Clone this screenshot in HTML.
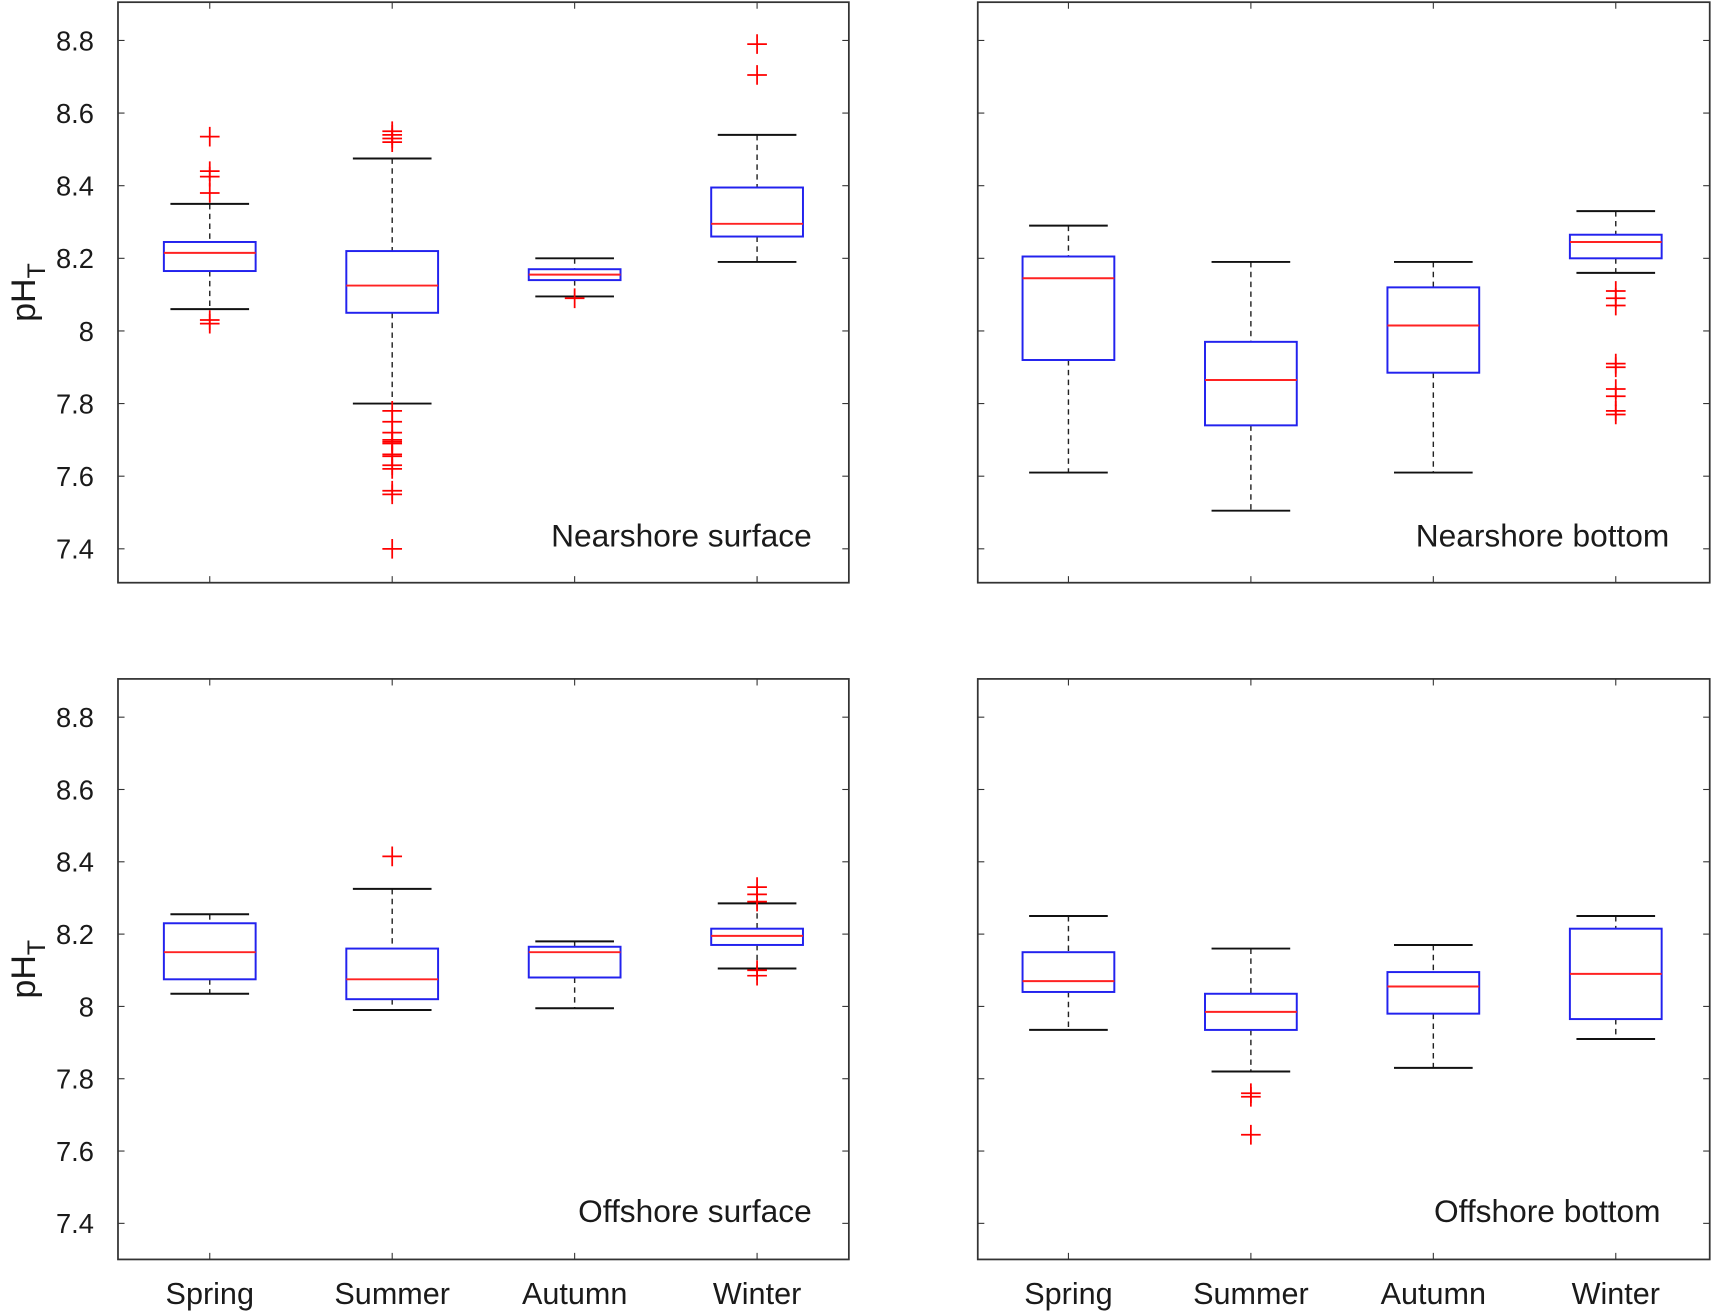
<!DOCTYPE html>
<html><head><meta charset="utf-8"><style>
html,body{margin:0;padding:0;background:#fff}
svg{display:block}
text{font-family:"Liberation Sans",sans-serif;fill:#1a1a1a}
</style></head><body>
<svg id="s" width="1713" height="1313" viewBox="0 0 1568 1201" preserveAspectRatio="none" xmlns="http://www.w3.org/2000/svg"></svg>
<script>
const S=document.getElementById('s');let h='';
const panels=[
{x0:108,x1:777,y0:2,y1:533,t0:37,t1:502,cx:[192,359,526,693],lab:'Nearshore surface',lx:743,ly:500,yl:true,
 d:[[8.165,8.245,8.215,8.06,8.35,[8.535,8.44,8.425,8.38,8.03,8.02]],
    [8.05,8.22,8.125,7.80,8.475,[8.55,8.54,8.53,8.52,7.78,7.75,7.72,7.70,7.695,7.69,7.66,7.655,7.63,7.62,7.56,7.55,7.40]],
    [8.14,8.17,8.155,8.095,8.20,[8.09]],
    [8.26,8.395,8.295,8.19,8.54,[8.79,8.705]]]},
{x0:895,x1:1565,y0:2,y1:533,t0:37,t1:502,cx:[978,1145,1312,1479],lab:'Nearshore bottom',lx:1528,ly:500,yl:false,
 d:[[7.92,8.205,8.145,7.61,8.29,[]],
    [7.74,7.97,7.865,7.505,8.19,[]],
    [7.885,8.12,8.015,7.61,8.19,[]],
    [8.20,8.265,8.245,8.16,8.33,[8.11,8.09,8.07,7.91,7.90,7.84,7.82,7.78,7.77]]]},
{x0:108,x1:777,y0:621,y1:1152,t0:656,t1:1119,cx:[192,359,526,693],lab:'Offshore surface',lx:743,ly:1118,yl:true,
 d:[[8.075,8.23,8.15,8.035,8.255,[]],
    [8.02,8.16,8.075,7.99,8.325,[8.415]],
    [8.08,8.165,8.15,7.995,8.18,[]],
    [8.17,8.215,8.195,8.105,8.285,[8.33,8.31,8.29,8.10,8.085]]]},
{x0:895,x1:1565,y0:621,y1:1152,t0:656,t1:1119,cx:[978,1145,1312,1479],lab:'Offshore bottom',lx:1520,ly:1118,yl:false,
 d:[[8.04,8.15,8.07,7.935,8.25,[]],
    [7.935,8.035,7.985,7.82,8.16,[7.76,7.75,7.645]],
    [7.98,8.095,8.055,7.83,8.17,[]],
    [7.965,8.215,8.09,7.91,8.25,[]]]}
];
const seas=['Spring','Summer','Autumn','Winter'];
panels.forEach((p,pi)=>{
 const Y=v=>p.t0+(8.8-v)*(p.t1-p.t0)/1.4;
 h+=`<rect x="${p.x0}" y="${p.y0}" width="${p.x1-p.x0}" height="${p.y1-p.y0}" fill="none" stroke="#333" stroke-width="1.6"/>`;
 for(let i=0;i<8;i++){const v=8.8-i*0.2,y=Y(v);
  h+=`<line x1="${p.x0}" y1="${y}" x2="${p.x0+6}" y2="${y}" stroke="#333"/><line x1="${p.x1}" y1="${y}" x2="${p.x1-6}" y2="${y}" stroke="#333"/>`;
  if(p.yl){let s=(Math.round(v*10)/10).toString();h+=`<text x="86" y="${y+9}" font-size="25" text-anchor="end">${s}</text>`;}
 }
 p.cx.forEach((c,i)=>{
  h+=`<line x1="${c}" y1="${p.y0}" x2="${c}" y2="${p.y0+6}" stroke="#333"/><line x1="${c}" y1="${p.y1}" x2="${c}" y2="${p.y1-6}" stroke="#333"/>`;
  if(pi>=2)h+=`<text x="${c}" y="1193" font-size="28" text-anchor="middle">${seas[i]}</text>`;
  const [q1,q3,m,lo,hi,out]=p.d[i];
  h+=`<line x1="${c}" y1="${Y(hi)}" x2="${c}" y2="${Y(q3)}" stroke="#222" stroke-width="1.3" stroke-dasharray="5,4"/>`;
  h+=`<line x1="${c}" y1="${Y(q1)}" x2="${c}" y2="${Y(lo)}" stroke="#222" stroke-width="1.3" stroke-dasharray="5,4"/>`;
  h+=`<line x1="${c-36}" y1="${Y(hi)}" x2="${c+36}" y2="${Y(hi)}" stroke="#111" stroke-width="1.8"/>`;
  h+=`<line x1="${c-36}" y1="${Y(lo)}" x2="${c+36}" y2="${Y(lo)}" stroke="#111" stroke-width="1.8"/>`;
  h+=`<rect x="${c-42}" y="${Y(q3)}" width="84" height="${Y(q1)-Y(q3)}" fill="none" stroke="#2222ee" stroke-width="1.8"/>`;
  h+=`<line x1="${c-42}" y1="${Y(m)}" x2="${c+42}" y2="${Y(m)}" stroke="#f22" stroke-width="1.8"/>`;
  out.forEach(v=>{const y=Y(v);h+=`<path d="M${c-9} ${y}H${c+9}M${c} ${y-9}V${y+9}" stroke="#f00" stroke-width="1.6"/>`;});
 });
 h+=`<text x="${p.lx}" y="${p.ly}" font-size="29" text-anchor="end">${p.lab}</text>`;
 if(p.yl){const cy=(p.y0+p.y1)/2;h+=`<text transform="translate(32 ${cy}) rotate(-90)" font-size="31" text-anchor="middle">pH<tspan font-size="23" dy="9">T</tspan></text>`;}
});
S.innerHTML=h;
</script>
</body></html>
